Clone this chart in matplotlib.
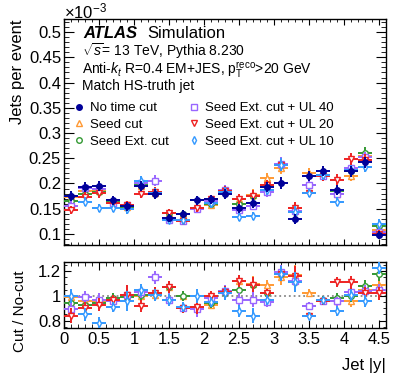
import numpy as np
import matplotlib
matplotlib.use("Agg")
import matplotlib.pyplot as plt
from matplotlib.lines import Line2D
from matplotlib.ticker import MultipleLocator, FuncFormatter

plt.rcParams['font.family'] = ['Liberation Sans', 'DejaVu Sans']
plt.rcParams['mathtext.fontset'] = 'custom'
plt.rcParams['mathtext.rm'] = 'Liberation Sans'
plt.rcParams['mathtext.it'] = 'Liberation Sans:italic'
plt.rcParams['mathtext.bf'] = 'Liberation Sans:bold'

# bins in jet |y| (width 0.2)
bin_centres = np.arange(0.1, 4.6, 0.2)
bin_half = 0.1

# No time cut, jets per event (x 1e-3)
no_cut = [0.175, 0.193, 0.195, 0.167, 0.155, 0.195, 0.179, 0.132, 0.140, 0.167, 0.169, 0.179,
          0.151, 0.161, 0.193, 0.201, 0.130, 0.215, 0.224, 0.187, 0.224, 0.242, 0.098]
no_cut_err = [0.010, 0.010, 0.010, 0.009, 0.009, 0.010, 0.010, 0.008, 0.008, 0.009, 0.009, 0.010,
              0.009, 0.010, 0.010, 0.011, 0.010, 0.010, 0.010, 0.010, 0.011, 0.011, 0.008]

# ratios cut / no-cut
ratio_seed = [0.99, 0.96, 0.95, 0.97, 0.99, 1.00, 1.01, 1.07, 1.00, 0.91, 0.93, 1.04,
              1.12, 1.10, 1.09, 1.15, 1.17, 1.025, 0.965, 0.96, 0.96, 1.05, 1.09]
ratio_ext = [0.94, 0.93, 0.94, 0.98, 0.99, 1.01, 1.02, 1.07, 1.00, 0.91, 0.94, 1.02,
             1.05, 1.09, 1.02, 1.18, 1.11, 0.92, 0.97, 0.985, 1.00, 1.08, 1.175]
ratio_ul40 = [0.89, 0.99, 0.97, 0.96, 1.01, 1.03, 1.15, 0.97, 0.90, 0.89, 0.98, 1.04,
              0.97, 0.97, 0.95, 1.19, 1.12, 0.92, 0.96, 0.955, 1.03, 1.04, 1.05]
ratio_ul20 = [0.84, 0.90, 0.93, 0.965, 1.01, 0.92, 1.02, 1.07, 0.90, 0.91, 1.00, 1.03,
              1.12, 1.09, 1.02, 1.18, 1.16, 0.84, 0.955, 1.11, 1.11, 1.02, 1.02]
ratio_ul10 = [1.00, 0.85, 0.78, 0.91, 0.96, 1.05, 1.01, 0.965, 0.91, 1.00, 0.95, 1.02,
              0.88, 0.84, 0.965, 1.18, 1.11, 0.84, 0.965, 0.875, 1.01, 0.96, 1.23]
ratio_err = [0.06, 0.05, 0.05, 0.04, 0.08, 0.05, 0.05, 0.05, 0.04, 0.06, 0.04, 0.05,
             0.05, 0.06, 0.04, 0.06, 0.08, 0.03, 0.03, 0.04, 0.05, 0.05, 0.05]

labels = ['No time cut', 'Seed cut', 'Seed Ext. cut',
          'Seed Ext. cut + UL 40', 'Seed Ext. cut + UL 20', 'Seed Ext. cut + UL 10']
colors = ['#000099', '#ff9933', '#339933', '#9966ff', '#ee2222', '#3399ff']
markers = ['o', '^', 'o', 's', 'v', 'd']
sizes = [4.0, 4.3, 4.0, 4.0, 4.3, 3.8]
ratios = [None, ratio_seed, ratio_ext, ratio_ul40, ratio_ul20, ratio_ul10]

W, H = 407, 391
fig = plt.figure(figsize=(W / 100, H / 100), dpi=100)
ax1 = fig.add_axes([64 / W, 1 - 245 / H, 322 / W, 226 / H])
ax2 = fig.add_axes([64 / W, 1 - 328 / H, 322 / W, 66 / H])

x = bin_centres
nom = np.array(no_cut)
nom_err = np.array(no_cut_err)

ax2.axhline(1.0, color='#888888', ls=':', lw=1.3, zorder=1)

# cut series first, nominal on top
for i in range(1, 6):
    r = np.array(ratios[i])
    y = nom * r
    ax1.errorbar(x, y, xerr=bin_half, yerr=nom_err * r, fmt=markers[i], color=colors[i],
                 mfc='white', mec=colors[i], ms=sizes[i], mew=1.0, elinewidth=1.4,
                 capsize=0, zorder=2 + i)
    ax2.errorbar(x, r, xerr=bin_half, yerr=ratio_err, fmt=markers[i], color=colors[i],
                 mfc='white', mec=colors[i], ms=sizes[i], mew=1.0, elinewidth=1.4,
                 capsize=0, zorder=2 + i)
ax1.errorbar(x, nom, xerr=bin_half, yerr=nom_err, fmt='o', color=colors[0],
             mfc=colors[0], mec=colors[0], ms=sizes[0], elinewidth=1.4, capsize=0, zorder=10)

ax1.set_xlim(0, 4.6)
ax1.set_ylim(0.078, 0.526)
ax2.set_xlim(0, 4.6)
ax2.set_ylim(0.74, 1.275)

fmt_g = FuncFormatter(lambda v, p: '%g' % round(v, 3))
for ax in (ax1, ax2):
    ax.xaxis.set_major_locator(MultipleLocator(0.5))
    ax.xaxis.set_minor_locator(MultipleLocator(0.1))
    ax.xaxis.set_major_formatter(fmt_g)
    ax.yaxis.set_major_formatter(fmt_g)
    ax.tick_params(which='both', direction='in', top=True, right=True, labelsize=12)
    for s in ax.spines.values():
        s.set_linewidth(1.0)
ax1.yaxis.set_major_locator(MultipleLocator(0.05))
ax1.yaxis.set_minor_locator(MultipleLocator(0.01))
ax2.yaxis.set_major_locator(MultipleLocator(0.2))
ax2.yaxis.set_minor_locator(MultipleLocator(0.05))
ax1.tick_params(axis='x', which='major', length=4, labelbottom=False)
ax1.tick_params(axis='x', which='minor', length=2)
ax1.tick_params(axis='y', which='major', length=7, pad=2)
ax1.tick_params(axis='y', which='minor', length=3.5)
ax2.tick_params(axis='x', which='major', length=6, pad=3)
ax2.tick_params(axis='x', which='minor', length=3)
ax2.tick_params(axis='y', which='major', length=5, pad=2)
ax2.tick_params(axis='y', which='minor', length=2.5)

ax1.set_ylabel('Jets per event', fontsize=12, loc='top')
ax1.yaxis.set_label_coords(-0.12, 1.0)
ax2.set_ylabel('Cut / No-cut', fontsize=11)
ax2.yaxis.set_label_coords(-0.115, 0.26)
ax2.set_xlabel('Jet |y|', fontsize=12, loc='right', labelpad=8)

fig.text(64 / W, 1 - 11 / H, r'$\times$10$^{-3}$', fontsize=12, ha='left', va='center')

ax1.text(0.059, 0.938, 'ATLAS', transform=ax1.transAxes, fontsize=12,
         fontweight='bold', style='italic', va='center')
ax1.text(0.26, 0.938, 'Simulation', transform=ax1.transAxes, fontsize=12, va='center')
ax1.text(0.056, 0.860, r'$\sqrt{s}$= 13 TeV, Pythia 8.230', transform=ax1.transAxes,
         fontsize=10, va='center')
ax1.text(0.056, 0.775, r'Anti-$k_{t}$ R=0.4 EM+JES, $\mathrm{p}_{\mathrm{T}}^{\mathrm{reco}}$>20 GeV',
         transform=ax1.transAxes, fontsize=10, va='center')
ax1.text(0.056, 0.702, 'Match HS-truth jet', transform=ax1.transAxes, fontsize=10, va='center')

handles = []
for i in range(6):
    handles.append(Line2D([], [], ls='none', marker=markers[i], color=colors[i],
                          mfc=colors[i] if i == 0 else 'white', mec=colors[i],
                          ms=sizes[i], mew=1.0))
ax1.legend(handles, labels, ncol=2, loc='upper left', bbox_to_anchor=(0.026, 0.633),
           frameon=False, fontsize=9.5, handlelength=1.0, handletextpad=0.35,
           columnspacing=1.4, labelspacing=0.35, borderpad=0, borderaxespad=0)

fig.savefig('out.png', dpi=100)
